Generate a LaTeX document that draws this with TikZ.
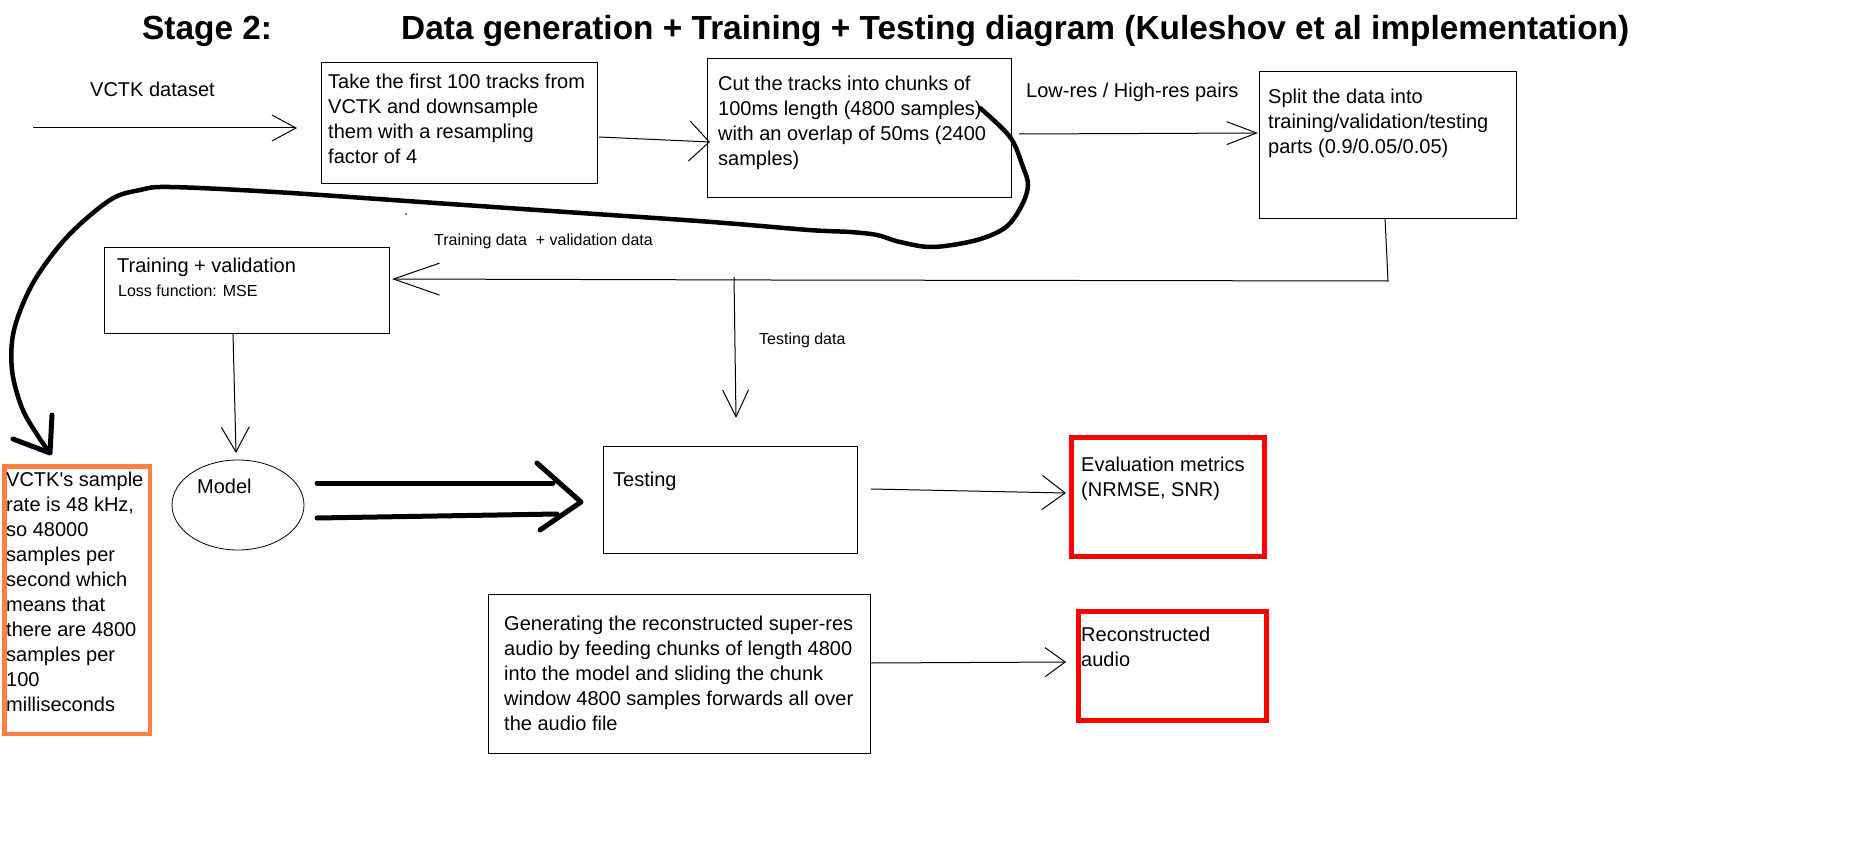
\documentclass[tikz,border=0pt]{standalone}
\usepackage{fontspec}
\setmainfont{Liberation Sans}
\usetikzlibrary{arrows.meta,shapes.geometric}
\definecolor{boxorange}{RGB}{255,128,64}
\begin{document}
\begin{tikzpicture}[x=1pt,y=-1pt,
  thinbox/.style={draw=black, line width=1pt, anchor=north west, inner sep=0pt},
  redbox/.style={draw=red, line width=5pt, anchor=north west, inner sep=0pt},
  orangebox/.style={draw=boxorange, line width=4.5pt, anchor=north west, inner sep=0pt},
  txt/.style={font=\fontsize{20}{25}\selectfont, align=left, inner sep=0pt, anchor=north west, yshift=-1.5pt},
  lbl/.style={font=\fontsize{20}{25}\selectfont, inner sep=0pt, anchor=base west},
  smalllbl/.style={font=\fontsize{16}{19}\selectfont, inner sep=0pt, anchor=base west},
  titlelbl/.style={font=\fontsize{33.4}{40}\selectfont\bfseries, inner sep=0pt, anchor=base west},
  conn/.style={draw=black, line width=1pt},
  heavy/.style={draw=black, line width=5pt, line cap=round, line join=round},
]
\useasboundingbox (0,0) rectangle (1862,864);

% titles
\node[titlelbl] (stage) at (142,40) {Stage 2:};
\node[titlelbl] (title) at (401,40) {Data generation + Training + Testing diagram (Kuleshov et al implementation)};

% boxes
\node[thinbox, minimum width=276pt, minimum height=121pt] (take) at (321,62) {};
\node[txt] (taketxt) at (328,72) {Take the first 100 tracks from\\VCTK and downsample\\them with a resampling\\factor of 4};

\node[thinbox, minimum width=304pt, minimum height=139pt] (cut) at (707,58) {};
\node[txt] (cuttxt) at (718,74) {Cut the tracks into chunks of\\100ms length (4800 samples)\\with an overlap of 50ms (2400\\samples)};

\node[thinbox, minimum width=257pt, minimum height=147pt] (split) at (1259,71) {};
\node[txt] (splittxt) at (1268,87) {Split the data into\\training/validation/testing\\parts (0.9/0.05/0.05)};

\node[thinbox, minimum width=285pt, minimum height=86pt] (train) at (104,247) {};
\node[lbl] (traintxt) at (117,272) {Training + validation};
\node[smalllbl] (losstxt) at (118,296) {Loss function: MSE};

\node[draw=black, line width=0.8pt, ellipse, minimum width=132pt, minimum height=90pt, inner sep=0pt] (model) at (238,505) {};
\node[lbl] (modeltxt) at (197,493) {Model};

\node[thinbox, minimum width=254pt, minimum height=107pt] (testing) at (603,446) {};
\node[lbl] (testingtxt) at (613,486) {Testing};

\node[redbox, minimum width=192.5pt, minimum height=119pt] (eval) at (1069,434.5) {};
\node[txt] (evaltxt) at (1081,455) {Evaluation metrics\\(NRMSE, SNR)};

\node[thinbox, minimum width=382pt, minimum height=159pt] (gen) at (488,594) {};
\node[txt] (gentxt) at (504,614) {Generating the reconstructed super-res\\audio by feeding chunks of length 4800\\into the model and sliding the chunk\\window 4800 samples forwards all over\\the audio file};

\node[redbox, minimum width=188pt, minimum height=109pt] (recon) at (1075.5,608.5) {};
\node[txt] (recontxt) at (1081,625) {Reconstructed\\audio};

\node[orangebox, minimum width=145.5pt, minimum height=267.5pt] (rate) at (2.25,464.25) {};
\node[txt] (ratetxt) at (6,470) {VCTK\textquotesingle s sample\\rate is 48 kHz,\\so 48000\\samples per\\second which\\means that\\there are 4800\\samples per\\100\\milliseconds};

% labels
\node[lbl] (vctklbl) at (90,97) {VCTK dataset};
\node[lbl] (pairslbl) at (1026,98) {Low-res / High-res pairs};
\node[smalllbl] (tvlbl) at (434,245) {Training data\ \ + validation data};
\node[smalllbl] (testlbl) at (759,344) {Testing data};

% connector coordinates
\coordinate (a0s) at (33,128);   \coordinate (a0e) at (297,128);
\coordinate (a1s) at (599,137);  \coordinate (a1e) at (710,142);
\coordinate (a2s) at (1019,134); \coordinate (a2e) at (1258,133);
\coordinate (a3s) at (1385,218); \coordinate (a3c) at (1388,281); \coordinate (a3m) at (772,280); \coordinate (a3e) at (392,279);
\coordinate (a4s) at (734,277);  \coordinate (a4e) at (736,418);
\coordinate (a5s) at (233,333);  \coordinate (a5e) at (236,453);
\coordinate (a6s) at (871,489);  \coordinate (a6e) at (1066,493);
\coordinate (a7s) at (871,663);  \coordinate (a7e) at (1066,662);

\draw[conn, -{Straight Barb[length=24pt,width=26pt]}] (a0s) -- (a0e);
\draw[conn, -{Straight Barb[length=20pt,width=40pt]}] (a1s) -- (a1e);
\draw[conn, -{Straight Barb[length=30pt,width=23pt]}] (a2s) -- (a2e);
\draw[conn, -{Straight Barb[length=46pt,width=32pt]}] (a3s) -- (a3c) -- (a3m) -- (a3e);
\draw[conn, -{Straight Barb[length=27pt,width=26pt]}] (a4s) -- (a4e);
\draw[conn, -{Straight Barb[length=25pt,width=28pt]}] (a5s) -- (a5e);
\draw[conn, -{Straight Barb[length=23pt,width=34pt]}] (a6s) -- (a6e);
\draw[conn, -{Straight Barb[length=20pt,width=29pt]}] (a7s) -- (a7e);

% thick double arrow model -> testing
\coordinate (d1s) at (317,483); \coordinate (d1e) at (553,483);
\coordinate (d2s) at (317,518); \coordinate (d2e) at (557,514);
\coordinate (dh1) at (537,463); \coordinate (dtip) at (581,502); \coordinate (dh2) at (540,530);
\draw[heavy] (d1s) -- (d1e);
\draw[heavy] (d2s) -- (d2e);
\draw[heavy] (dh1) -- (dtip) -- (dh2);

% thick hand-drawn curve
\draw[heavy, line width=4.5pt] plot[smooth, tension=0.55] coordinates {
 (980,108) (1010,137) (1023,167) (1028,185) (1022,205) (1006,227) (977,240) (933,247) (900,242) (877,235) (850,232) (809,230) (712,222) (566,212) (421,202) (275,192) (170,187) (140,190) (110,200) (67,237) (33,283) (14,330) (12,370) (22,408) (38,436) (50,453)};
\coordinate (ch1) at (52,415); \coordinate (chtip) at (50,453); \coordinate (ch2) at (13,439);
\draw[heavy] (ch1) -- (chtip) -- (ch2);

% stray dot
\fill[black] (406,214) circle (0.8pt);
\end{tikzpicture}
\end{document}
